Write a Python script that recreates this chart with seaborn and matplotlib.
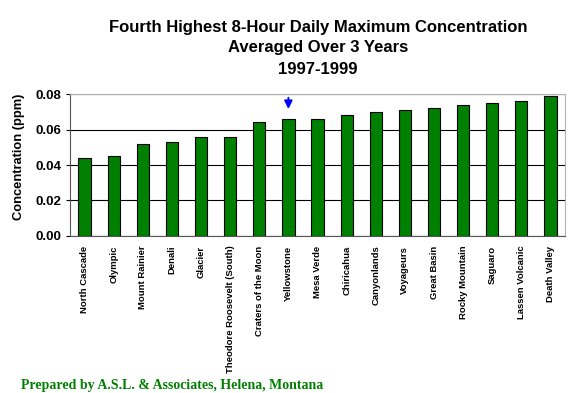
import matplotlib
matplotlib.use("Agg")
import matplotlib.pyplot as plt
import seaborn as sns

parks = ["North Cascade", "Olympic", "Mount Rainier", "Denali", "Glacier",
         "Theodore Roosevelt (South)", "Craters of the Moon", "Yellowstone",
         "Mesa Verde", "Chiricahua", "Canyonlands", "Voyageurs", "Great Basin",
         "Rocky Mountain", "Saguaro", "Lassen Volcanic", "Death Valley"]
conc = [0.044, 0.045, 0.052, 0.053, 0.056, 0.056, 0.064, 0.066,
        0.066, 0.068, 0.070, 0.071, 0.072, 0.074, 0.075, 0.076, 0.079]
yticks = [0.00, 0.02, 0.04, 0.06, 0.08]

sns.set_style("white")
plt.rcParams['font.family'] = ['Liberation Sans', 'DejaVu Sans']
for k in ["text.color", "axes.labelcolor", "xtick.color", "ytick.color"]:
    plt.rcParams[k] = "black"

fig = plt.figure(figsize=(5.75, 3.93), dpi=100)
ax = fig.add_axes([0.1217, 0.3995, 0.861, 0.3613])

sns.barplot(x=parks, y=conc, color="#008000", saturation=1, edgecolor="black",
            linewidth=0.8, width=0.42, ax=ax, zorder=3)

ax.set_ylim(0, 0.08)
ax.set_xlim(-0.5, len(parks) - 0.5)
ax.set_yticks(yticks)
ax.set_yticklabels([f"{v:.2f}" for v in yticks], fontsize=9.5, fontweight="bold")
ax.set_xticks(range(len(parks)))
ax.set_xticklabels(parks, rotation=90, fontsize=6.8, fontweight="bold")
ax.set_xticks([i - 0.5 for i in range(len(parks) + 1)], minor=True)
ax.tick_params(axis="x", which="major", length=0, pad=7)
ax.tick_params(axis="x", which="minor", length=3, color="black", direction="out")
ax.tick_params(axis="y", length=3, direction="out", color="black", left=True, pad=3)
ax.yaxis.grid(True, color="black", linewidth=0.8, zorder=0)
ax.set_axisbelow(True)

for side in ["top", "right"]:
    ax.spines[side].set_color("#b0b0b0")
for side in ["left", "bottom"]:
    ax.spines[side].set_color("#555555")

ax.set_ylabel("Concentration (ppm)", fontsize=9.3, fontweight="bold")
ax.yaxis.set_label_coords(-0.09, 0.556)

# arrow pointing at Yellowstone
ax.annotate("", xy=(parks.index("Yellowstone"), 0.0700), xytext=(parks.index("Yellowstone"), 0.0795),
            arrowprops=dict(arrowstyle="-|>", color="blue", lw=1.3, mutation_scale=12),
            annotation_clip=False)

fig.text(0.553, 0.931, "Fourth Highest 8-Hour Daily Maximum Concentration",
         ha="center", va="center", fontsize=12, fontweight="bold")
fig.text(0.553, 0.878, "Averaged Over 3 Years", ha="center", va="center",
         fontsize=12, fontweight="bold")
fig.text(0.553, 0.822, "1997-1999", ha="center", va="center",
         fontsize=12, fontweight="bold")

fig.text(0.037, 0.0095, "Prepared by A.S.L. & Associates, Helena, Montana",
         ha="left", va="baseline", fontsize=10, fontweight="bold",
         color="#008000", family="Liberation Serif")

fig.savefig("out.png", dpi=100)
